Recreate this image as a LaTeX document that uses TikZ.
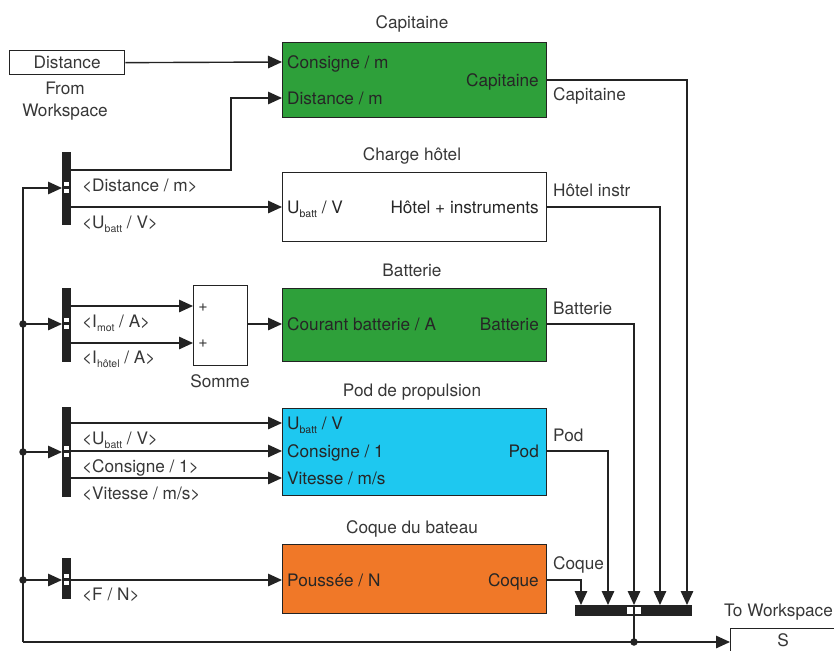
\documentclass[tikz,border=0pt]{standalone}
\usepackage{fontspec}
\setmainfont{TeX Gyre Heros}
\usetikzlibrary{arrows.meta}
\definecolor{sgreen}{RGB}{46,160,58}
\definecolor{scyan}{RGB}{30,200,240}
\definecolor{sorange}{RGB}{240,120,40}
\definecolor{txt}{RGB}{55,55,55}
\definecolor{ln}{RGB}{35,35,35}
\newcommand\mysub[1]{\raisebox{-0.45ex}{\fontsize{10.5}{10.5}\selectfont #1}}
\begin{document}
\begin{tikzpicture}[x=1pt,y=-1pt,
 font=\fontsize{17.2}{20}\selectfont, text=txt,
 blk/.style={draw=ln, line width=1.3pt, inner sep=0pt, anchor=north west, minimum width=264pt},
 bar/.style={fill=ln, draw=none, inner sep=0pt, anchor=north west, minimum width=9pt},
 lbl/.style={inner sep=0pt, text height=12.4pt, text depth=0pt, anchor=west},
 lblr/.style={lbl, anchor=east},
 inl/.style={lbl, text=black!85},
 inr/.style={lblr, text=black!85},
 ttl/.style={inner sep=0pt, text height=12.4pt, text depth=0pt},
 wire/.style={draw=ln, line width=1.4pt},
 sig/.style={wire, -{Triangle[length=14pt,width=12.5pt]}},
 jdot/.style={circle, fill=ln, inner sep=0pt, minimum size=7.5pt},
]
\useasboundingbox (0,0) rectangle (834,650);

% source
\node[draw=ln, line width=1.3pt, inner sep=0pt, anchor=north west, minimum width=115pt, minimum height=24pt, text height=12.4pt, text depth=0pt] (dist) at (9,50) {Distance};
\node[align=center, inner sep=0pt, font=\fontsize{17.2}{22.5}\selectfont] (fromws) at (65,101) {From\\Workspace};

% blocks
\node[blk, fill=sgreen, minimum height=75pt] (cap) at (282,42) {};
\node[blk, fill=white, minimum height=69pt] (hot) at (282,172) {};
\node[blk, fill=sgreen, minimum height=73pt] (bat) at (282,288) {};
\node[blk, fill=scyan, minimum height=87pt] (pod) at (282,408) {};
\node[blk, fill=sorange, minimum height=69pt] (coq) at (282,544) {};

% titles
\node[ttl] (capT) at (412,22) {Capitaine};
\node[ttl] (hotT) at (412,154) {Charge hôtel};
\node[ttl] (batT) at (412,270) {Batterie};
\node[ttl] (podT) at (412,390) {Pod de propulsion};
\node[ttl] (coqT) at (412,527) {Coque du bateau};

% block texts
\node[inl] (capL1) at (287,62) {Consigne / m};
\node[inl] (capL2) at (287,98) {Distance / m};
\node[inr] (capR) at (539,80) {Capitaine};
\node[inl] (hotL) at (287,207) {U\mysub{batt} / V};
\node[inr] (hotR) at (539,207) {Hôtel + instruments};
\node[inl] (batL) at (287,324) {Courant batterie / A};
\node[inr] (batR) at (539,324) {Batterie};
\node[inl] (podL1) at (287,423) {U\mysub{batt} / V};
\node[inl] (podL2) at (287,451) {Consigne / 1};
\node[inl] (podL3) at (287,478) {Vitesse / m/s};
\node[inr] (podR) at (539,451) {Pod};
\node[inl] (coqL) at (287,580) {Poussée / N};
\node[inr] (coqR) at (539,580) {Coque};

% somme
\node[draw=ln, line width=1.3pt, fill=white, inner sep=0pt, anchor=north west, minimum width=54pt, minimum height=80pt] (som) at (193,285) {};
\node[inner sep=0pt, font=\fontsize{16}{16}\selectfont] (somP1) at (203,308) {+};
\node[inner sep=0pt, font=\fontsize{16}{16}\selectfont] (somP2) at (203,344) {+};
\node[ttl] (somT) at (220,381) {Somme};

% demux bars
\node[bar, minimum height=73pt] (d1) at (62,152) {};
\node[bar, minimum height=74pt] (d2) at (62,288) {};
\node[bar, minimum height=90pt] (d3) at (62,407) {};
\node[bar, minimum height=41pt] (d4) at (62,558) {};
\foreach \yy in {188,324,452,580}{
  \fill[white] (64,\yy-6) rectangle (69,\yy-2);
  \fill[white] (64,\yy+1) rectangle (69,\yy+5);
}
% mux bar
\node[fill=ln, inner sep=0pt, anchor=north west, minimum width=117pt, minimum height=11pt] (mux) at (575,605) {};
\fill[white] (627,607) rectangle (632.5,614);
\fill[white] (635,607) rectangle (641,614);

% sink
\node[draw=ln, line width=1.3pt, fill=white, inner sep=0pt, anchor=north west, minimum width=130pt, minimum height=40pt] (S) at (730,628) {};
\node[ttl] (Stxt) at (783,640) {S};
\node[lbl, anchor=east] (tows) at (833,610) {To Workspace};

% demux labels
\node[lbl] (l1) at (82,185) {<Distance / m>};
\node[lbl] (l2) at (82,222) {<U\mysub{batt} / V>};
\node[lbl] (l3) at (82,321) {<I\mysub{mot} / A>};
\node[lbl] (l4) at (82,357) {<I\mysub{hôtel} / A>};
\node[lbl] (l5) at (82,438) {<U\mysub{batt} / V>};
\node[lbl] (l6) at (82,466) {<Consigne / 1>};
\node[lbl] (l7) at (82,493) {<Vitesse / m/s>};
\node[lbl] (l8) at (82,594) {<F / N>};

% output labels
\node[lbl] (o1) at (553,94) {Capitaine};
\node[lbl] (o2) at (553,190) {Hôtel instr};
\node[lbl] (o3) at (553,308) {Batterie};
\node[lbl] (o4) at (553,435) {Pod};
\node[lbl] (o5) at (553,563) {Coque};

% ports
\coordinate (capI1) at (282,62);
\coordinate (capI2) at (282,98);
\coordinate (capO) at (546,80);
\coordinate (hotI) at (282,207);
\coordinate (hotO) at (546,207);
\coordinate (somI1) at (193,306);
\coordinate (somI2) at (193,343);
\coordinate (somO) at (247,324);
\coordinate (batI) at (282,324);
\coordinate (batO) at (546,324);
\coordinate (podI1) at (282,423);
\coordinate (podI2) at (282,451);
\coordinate (podI3) at (282,478);
\coordinate (podO) at (546,451);
\coordinate (coqI) at (282,580);
\coordinate (coqO) at (546,580);
\coordinate (mxI1) at (581,605);
\coordinate (mxI2) at (608,605);
\coordinate (mxI3) at (634,605);
\coordinate (mxI4) at (660,605);
\coordinate (mxI5) at (687,605);
\coordinate (mxO) at (634,616);
\coordinate (jn) at (634,642);
\coordinate (jl) at (23,642);
\coordinate (jt) at (23,188);
\coordinate (j2) at (23,324);
\coordinate (j3) at (23,452);
\coordinate (j4) at (23,580);
\coordinate (Sin) at (730,642);
\coordinate (d1i) at (62,188);
\coordinate (d2i) at (62,324);
\coordinate (d3i) at (62,452);
\coordinate (d4i) at (62,580);
\coordinate (d1o1) at (71,170);
\coordinate (d1o2) at (71,207);
\coordinate (d2o1) at (71,306);
\coordinate (d2o2) at (71,343);
\coordinate (d3o1) at (71,423);
\coordinate (d3o2) at (71,451);
\coordinate (d3o3) at (71,478);
\coordinate (d4o) at (71,580);

% wires
\draw[sig] (dist.east) -- (capI1);
\draw[sig] (d1o1) -- ++(160,0) |- (capI2);
\draw[sig] (d1o2) -- (hotI);
\draw[sig] (d2o1) -- (somI1);
\draw[sig] (d2o2) -- (somI2);
\draw[sig] (somO) -- (batI);
\draw[sig] (d3o1) -- (podI1);
\draw[sig] (d3o2) -- (podI2);
\draw[sig] (d3o3) -- (podI3);
\draw[sig] (d4o) -- (coqI);
\draw[sig] (capO) -| (mxI5);
\draw[sig] (hotO) -| (mxI4);
\draw[sig] (batO) -| (mxI3);
\draw[sig] (podO) -| (mxI2);
\draw[sig] (coqO) -| (mxI1);
\draw[wire] (mxO) -- (jn);
\draw[sig] (jl) -- (Sin);
\draw[sig] (jl) -- (jt) -- (d1i);
\draw[sig] (j2) -- (d2i);
\draw[sig] (j3) -- (d3i);
\draw[sig] (j4) -- (d4i);
\node[jdot] (dj2) at (j2) {};
\node[jdot] (dj3) at (j3) {};
\node[jdot] (dj4) at (j4) {};
\node[jdot] (djn) at (jn) {};
\end{tikzpicture}
\end{document}
